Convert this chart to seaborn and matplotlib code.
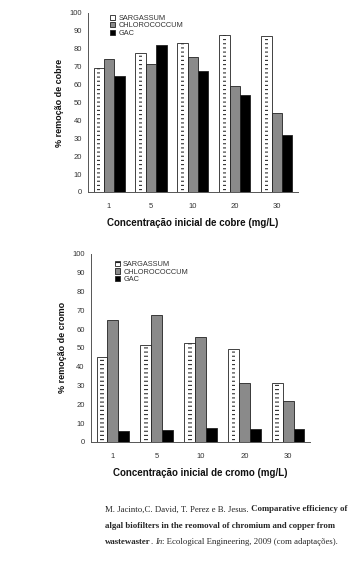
import numpy as np
import pandas as pd
import matplotlib
matplotlib.use("Agg")
import matplotlib.pyplot as plt
import seaborn as sns
from matplotlib.patches import Patch, Rectangle

# Data
concentracoes = ["1", "5", "10", "20", "30"]
series = ["SARGASSUM", "CHLOROCOCCUM", "GAC"]

cobre_sargassum = [69, 77.5, 83, 87.5, 87]
cobre_chlorococcum = [74, 71.5, 75.5, 59, 44]
cobre_gac = [65, 82, 67.5, 54, 32]

cromo_sargassum = [45, 51.5, 52.5, 49.5, 31.5]
cromo_chlorococcum = [65, 67.5, 56, 31.5, 22]
cromo_gac = [6, 6.5, 7.5, 7, 7]

sns.set_style("white")
plt.rcParams["font.family"] = ["Liberation Sans", "DejaVu Sans"]
plt.rcParams["hatch.linewidth"] = 0.8

cores = {"SARGASSUM": "white", "CHLOROCOCCUM": "#8a8a8a", "GAC": "black"}


def make_df(v1, v2, v3):
    rows = []
    for nome, vals in zip(series, [v1, v2, v3]):
        for c, v in zip(concentracoes, vals):
            rows.append({"conc": c, "serie": nome, "valor": v})
    return pd.DataFrame(rows)


def draw(ax, df, ylabel, xlabel, leg_anchor):
    sns.barplot(data=df, x="conc", y="valor", hue="serie", order=concentracoes,
                hue_order=series, palette=cores, width=0.74, edgecolor="#222222",
                linewidth=0.6, ax=ax, legend=False)
    n = len(concentracoes)
    # dashed fill for SARGASSUM: short dashes in the middle of each bar
    for p in list(ax.patches[:n]):
        w = p.get_width()
        ax.add_patch(Rectangle((p.get_x() + 0.33 * w, p.get_y()), 0.34 * w, p.get_height(),
                               facecolor="none", edgecolor="#333333", linewidth=0,
                               hatch="----", zorder=p.get_zorder() + 0.1))
    ax.set_ylim(0, 100)
    ax.set_xlim(-0.5, n - 0.5)
    ax.set_yticks(np.arange(0, 101, 10))
    ax.set_xticks(range(n))
    ax.set_xticks(np.arange(0.5, n - 1, 1), minor=True)
    ax.tick_params(axis="x", which="major", length=0, pad=8, labelsize=5.5, labelcolor="#333333")
    ax.tick_params(axis="x", which="minor", length=3, width=0.6, color="#555555", direction="out")
    ax.tick_params(axis="y", length=3, width=0.6, color="#555555", labelsize=5.5,
                   labelcolor="#333333", direction="out", pad=1.5)
    sns.despine(ax=ax)
    for s in ["left", "bottom"]:
        ax.spines[s].set_color("#555555")
        ax.spines[s].set_linewidth(0.7)
    ax.set_ylabel(ylabel, fontsize=6.5, fontweight="bold", labelpad=4, color="#111111")
    ax.set_xlabel(xlabel, fontsize=7, fontweight="bold", labelpad=6, color="#111111")
    handles = [Patch(facecolor=cores[s], edgecolor="#222222", linewidth=0.6,
                     hatch="--" if s == "SARGASSUM" else None) for s in series]
    ax.legend(handles, series, loc="upper left", bbox_to_anchor=leg_anchor, frameon=False,
              fontsize=5.3, handlelength=0.7, handleheight=0.7, labelspacing=0.05,
              handletextpad=0.4, borderpad=0, borderaxespad=0, labelcolor="#333333")


fig = plt.figure(figsize=(3.58, 5.63), dpi=100)

ax1 = fig.add_axes([0.246, 0.659, 0.586, 0.318])
draw(ax1, make_df(cobre_sargassum, cobre_chlorococcum, cobre_gac),
     "% remoção de cobre", "Concentração inicial de cobre (mg/L)", (0.105, 0.99))

ax2 = fig.add_axes([0.254, 0.215, 0.612, 0.334])
draw(ax2, make_df(cromo_sargassum, cromo_chlorococcum, cromo_gac),
     "% remoção de cromo", "Concentração inicial de cromo (mg/L)", (0.11, 0.963))

# Reference text below the charts
axt = fig.add_axes([0, 0, 1, 1])
axt.axis("off")
fs = 6.3
serif = ["Liberation Serif", "DejaVu Serif"]
x0 = 0.293


def line(y, pieces):
    prev = None
    for texto, peso, estilo in pieces:
        if prev is None:
            prev = axt.text(x0, y, texto, fontsize=fs, family=serif, fontweight=peso,
                            fontstyle=estilo, va="bottom", ha="left", transform=fig.transFigure)
        else:
            prev = axt.annotate(texto, xy=(1, 0), xycoords=prev, fontsize=fs, family=serif,
                                fontweight=peso, fontstyle=estilo, va="bottom", ha="left")


line(0.088, [("M. Jacinto,C. David, T. Perez e B. Jesus.", "normal", "normal"),
             (" Comparative efficiency of", "bold", "normal")])
line(0.059, [("algal biofilters in the reomoval of chromium and copper from", "bold", "normal")])
line(0.030, [("wastewaster", "bold", "normal"), (". ", "normal", "normal"),
             ("In", "normal", "italic"), (": Ecological Engineering, 2009 (com adaptações).", "normal", "normal")])

fig.savefig("out.png", dpi=100)
